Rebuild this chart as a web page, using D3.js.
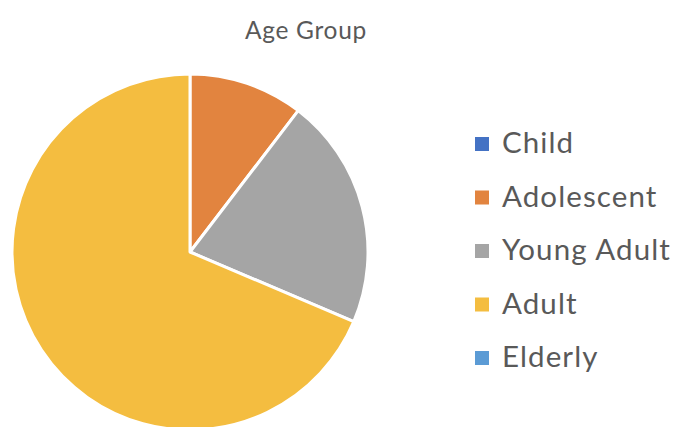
<!DOCTYPE html>
<html>
<head>
<meta charset="utf-8">
<script src="https://cdn.jsdelivr.net/npm/d3@7"></script>
<style>
  html, body { margin: 0; padding: 0; background: #fff; }
  svg { display: block; }
</style>
</head>
<body>
<svg id="chart" width="678" height="427"></svg>
<script>
// Age group shares (percent)
const categories = ["Child", "Adolescent", "Young Adult", "Adult", "Elderly"];
const values = [0, 10.4, 21.0, 68.6, 0];
const colors = ["#4472C4", "#E2843F", "#A5A5A5", "#F4BD40", "#5B9BD5"];
const title = "Age Group";

const svg = d3.select("#chart");
const font = "Lato, 'Open Sans', sans-serif";
const textColor = "#595959";

const cx = 190, cy = 252, radius = 178;

const data = categories.map((c, i) => ({ category: c, value: values[i] }));

const color = d3.scaleOrdinal().domain(categories).range(colors);

const pie = d3.pie().sort(null).value(d => d.value);
const arc = d3.arc().innerRadius(0).outerRadius(radius);

svg.append("text")
  .attr("x", 306).attr("y", 39)
  .attr("text-anchor", "middle")
  .attr("font-family", font)
  .attr("font-size", 24.5)
  .attr("letter-spacing", 0.7)
  .attr("fill", textColor)
  .text(title);

const g = svg.append("g").attr("transform", `translate(${cx},${cy})`);
g.selectAll("path")
  .data(pie(data).filter(d => d.data.value > 0))
  .join("path")
  .attr("d", arc)
  .attr("fill", d => color(d.data.category))
  .attr("stroke", "#fff")
  .attr("stroke-width", 3)
  .attr("stroke-linejoin", "round");

// Legend
const legendY = d3.scalePoint().domain(categories).range([153, 367]);
const legend = svg.append("g");
const item = legend.selectAll("g")
  .data(categories)
  .join("g")
  .attr("transform", d => `translate(475,${legendY(d)})`);
item.append("rect")
  .attr("x", 0).attr("y", -16)
  .attr("width", 14).attr("height", 14)
  .attr("fill", d => color(d));
item.append("text")
  .attr("x", 27).attr("y", 0)
  .attr("font-family", font)
  .attr("font-size", 29.5)
  .attr("letter-spacing", 1.1)
  .attr("fill", textColor)
  .text(d => d);
</script>
</body>
</html>
